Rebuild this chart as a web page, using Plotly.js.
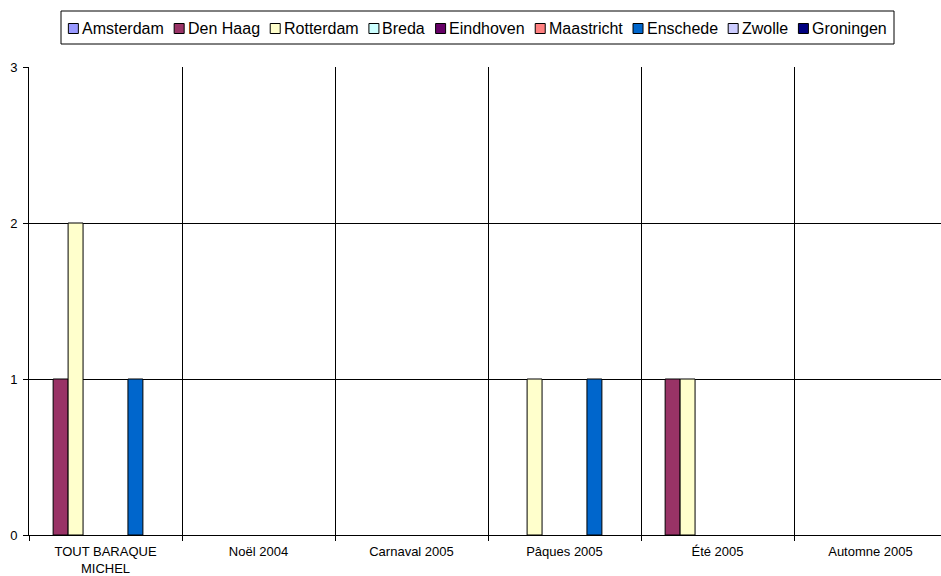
<!DOCTYPE html>
<html><head><meta charset="utf-8">
<script src="https://cdn.plot.ly/plotly-3.0.1.min.js"></script>
<style>html,body{margin:0;padding:0;background:#fff;}#chart{width:941px;height:576px;}</style>
</head><body><div id="chart"></div>
<script>
const categories = ["TOUT BARAQUE<br>MICHEL", "Noël 2004", "Carnaval 2005", "Pâques 2005", "Été 2005", "Automne 2005"];
const seriesNames = ["Amsterdam", "Den Haag", "Rotterdam", "Breda", "Eindhoven", "Maastricht", "Enschede", "Zwolle", "Groningen"];
const amsterdam  = [0, 0, 0, 0, 0, 0];
const denHaag    = [1, 0, 0, 0, 1, 0];
const rotterdam  = [2, 0, 0, 1, 1, 0];
const breda      = [0, 0, 0, 0, 0, 0];
const eindhoven  = [0, 0, 0, 0, 0, 0];
const maastricht = [0, 0, 0, 0, 0, 0];
const enschede   = [1, 0, 0, 1, 0, 0];
const zwolle     = [0, 0, 0, 0, 0, 0];
const groningen  = [0, 0, 0, 0, 0, 0];
const yTicks = [0, 1, 2, 3];

const seriesValues = [amsterdam, denHaag, rotterdam, breda, eindhoven, maastricht, enschede, zwolle, groningen];
const colors = ["#9999FF", "#993366", "#FFFFCC", "#CCFFFF", "#660066", "#FF8080", "#0066CC", "#CCCCFF", "#000080"];

const FONT = "Liberation Sans, Arial, sans-serif";
const traces = seriesNames.map((n, i) => ({
  type: "bar", name: n, x: categories, y: seriesValues[i].map(v => v === 0 ? null : v),
  marker: {color: colors[i], line: {color: "#000", width: 1}}, showlegend: false
}));

// plot area geometry (pixels)
const W = 941, H = 576, mL = 29, mR = 0, mT = 67, mB = 41;
const plotW = W - mL - mR, plotH = H - mT - mB, catW = 153;
const px = x => (x - mL) / plotW;          // pixel -> paper x
const py = y => (H - mB - y) / plotH;      // pixel -> paper y

// legend built from series names/colours, laid out from measured text widths
const legendFontSize = 16;
const ctx = document.createElement("canvas").getContext("2d");
ctx.font = legendFontSize + "px 'Liberation Sans'";
const legBox = {x0: 61, x1: 894, y0: 11, y1: 44};
const yMid = 28.5;
const sq = 10, sqGap = 3.5, itemGap = 10.5;
const widths = seriesNames.map(n => ctx.measureText(n).width);
const total = widths.reduce((a, w) => a + sq + sqGap + w, 0) + itemGap * (seriesNames.length - 1);
let cx = (legBox.x0 + legBox.x1) / 2 - total / 2;
const shapes = [{type: "rect", xref: "paper", yref: "paper", x0: px(legBox.x0), x1: px(legBox.x1),
  y0: py(legBox.y1), y1: py(legBox.y0), line: {color: "#000", width: 1}, fillcolor: "rgba(0,0,0,0)"}];
const annotations = [];
seriesNames.forEach((n, i) => {
  shapes.push({type: "rect", xref: "paper", yref: "paper", x0: px(cx), x1: px(cx + sq),
    y0: py(yMid + sq / 2), y1: py(yMid - sq / 2), fillcolor: colors[i], line: {color: "#000", width: 1}});
  annotations.push({xref: "paper", yref: "paper", x: px(cx + sq + sqGap - 2), y: py(yMid - 0.5), text: n,
    showarrow: false, xanchor: "left", yanchor: "middle", font: {size: legendFontSize, family: FONT, color: "#000"}});
  cx += sq + sqGap + widths[i] + itemGap;
});

const layout = {
  width: W, height: H,
  margin: {l: mL, r: mR, t: mT, b: mB, pad: 0},
  paper_bgcolor: "#fff", plot_bgcolor: "#fff",
  font: {family: FONT, size: 13, color: "#000"},
  barmode: "group", bargap: 0.12, bargroupgap: 0,
  showlegend: false,
  shapes: shapes, annotations: annotations,
  xaxis: {type: "category", range: [-0.5, -0.5 + plotW / catW], tickson: "boundaries",
    ticks: "outside", ticklen: 5, tickcolor: "#000", showline: true, linecolor: "#000", linewidth: 1,
    showgrid: true, gridcolor: "#000", gridwidth: 1, tickfont: {size: 13}, ticklabelstandoff: 4, fixedrange: true},
  yaxis: {range: [0, 3], tickvals: yTicks, ticktext: yTicks.map(String), ticks: "outside", ticklen: 5,
    tickcolor: "#000", showline: true, linecolor: "#000", linewidth: 1, showgrid: true, gridcolor: "#000",
    gridwidth: 1, zeroline: false, tickfont: {size: 13}, ticklabelstandoff: 3, fixedrange: true}
};
Plotly.newPlot("chart", traces, layout, {displayModeBar: false, staticPlot: true});
</script></body></html>
